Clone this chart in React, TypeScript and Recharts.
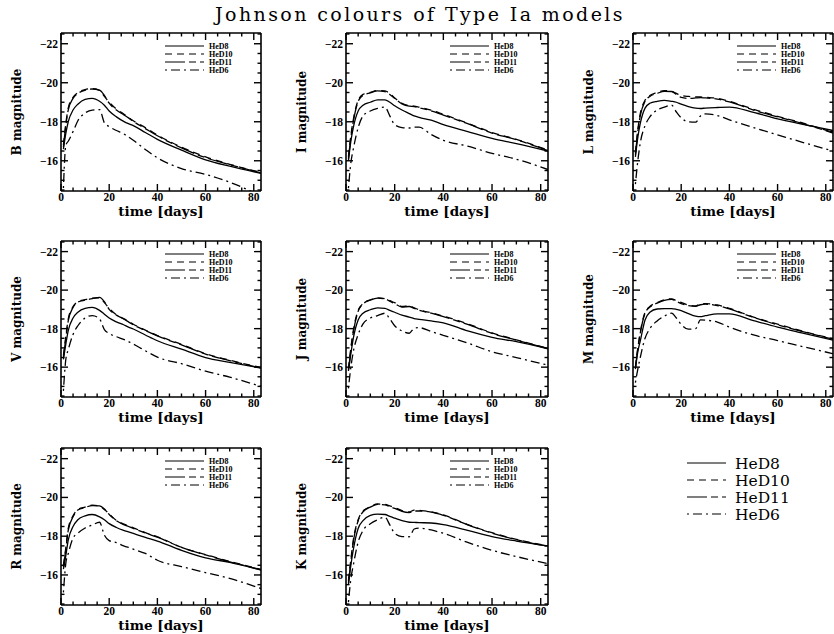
import React from 'react';
import { LineChart, Line, XAxis, YAxis, Legend, Label } from 'recharts';

// days since explosion
const days = [1, 2, 3, 5, 7, 10, 13, 16, 18, 20, 23, 26, 28, 30, 35, 40, 50, 60, 70, 83];

const models = ['HeD8', 'HeD10', 'HeD11', 'HeD6'];

// B band
const B_HeD8 = [-16.6, -17.4, -18.0, -18.6, -18.9, -19.15, -19.2, -19.05, -18.85, -18.55, -18.25, -18.02, -17.9, -17.8, -17.45, -17.1, -16.55, -16.05, -15.72, -15.35];
const B_HeD10 = [-16.8, -17.9, -18.7, -19.25, -19.5, -19.65, -19.7, -19.6, -19.3, -19.0, -18.65, -18.4, -18.22, -18.05, -17.7, -17.32, -16.7, -16.2, -15.82, -15.4];
const B_HeD11 = [-16.7, -17.8, -18.6, -19.2, -19.45, -19.62, -19.68, -19.62, -19.35, -18.95, -18.6, -18.36, -18.2, -18.02, -17.65, -17.28, -16.66, -16.16, -15.8, -15.38];
const B_HeD6 = [-14.6, -16.8, -17.0, -17.5, -18.05, -18.45, -18.6, -18.62, -17.95, -17.75, -17.55, -17.38, -17.22, -17.05, -16.58, -16.15, -15.6, -15.3, -14.9, -14.2];

// I band
const I_HeD8 = [-16.0, -17.0, -17.7, -18.55, -18.85, -19.0, -19.12, -19.12, -19.0, -18.82, -18.6, -18.42, -18.3, -18.22, -18.08, -17.85, -17.5, -17.15, -16.88, -16.5];
const I_HeD10 = [-16.2, -17.3, -18.1, -19.1, -19.4, -19.5, -19.6, -19.58, -19.45, -19.22, -18.95, -18.82, -18.8, -18.75, -18.6, -18.38, -17.92, -17.45, -17.1, -16.55];
const I_HeD11 = [-16.1, -17.2, -18.0, -19.05, -19.35, -19.48, -19.58, -19.55, -19.4, -19.2, -18.92, -18.8, -18.78, -18.72, -18.56, -18.34, -17.9, -17.42, -17.08, -16.52];
const I_HeD6 = [-14.6, -15.9, -16.6, -17.7, -18.3, -18.55, -18.68, -18.75, -18.3, -17.85, -17.7, -17.68, -17.72, -17.72, -17.35, -17.05, -16.75, -16.38, -16.08, -15.55];

// L band
const L_HeD8 = [-16.2, -17.2, -17.9, -18.7, -18.95, -19.05, -19.1, -19.05, -19.0, -18.9, -18.78, -18.7, -18.68, -18.7, -18.73, -18.75, -18.48, -18.15, -17.88, -17.55];
const L_HeD10 = [-16.4, -17.6, -18.4, -19.1, -19.35, -19.5, -19.6, -19.56, -19.45, -19.35, -19.3, -19.28, -19.27, -19.25, -19.2, -19.05, -18.64, -18.28, -17.95, -17.45];
const L_HeD11 = [-16.3, -17.5, -18.3, -19.05, -19.3, -19.45, -19.56, -19.55, -19.4, -19.25, -19.2, -19.22, -19.24, -19.22, -19.16, -19.02, -18.6, -18.25, -17.92, -17.42];
const L_HeD6 = [-14.8, -16.0, -16.9, -17.8, -18.25, -18.6, -18.75, -18.85, -18.5, -18.2, -18.0, -17.98, -18.3, -18.4, -18.32, -18.1, -17.7, -17.33, -16.96, -16.5];

// V band
const V_HeD8 = [-16.4, -17.2, -17.9, -18.55, -18.85, -19.05, -19.1, -18.95, -18.75, -18.55, -18.35, -18.2, -18.08, -17.98, -17.67, -17.37, -16.93, -16.5, -16.25, -15.95];
const V_HeD10 = [-16.6, -17.6, -18.5, -19.15, -19.4, -19.5, -19.58, -19.6, -19.35, -19.05, -18.72, -18.52, -18.38, -18.23, -17.92, -17.64, -17.18, -16.7, -16.36, -15.98];
const V_HeD11 = [-16.5, -17.5, -18.4, -19.1, -19.38, -19.48, -19.56, -19.62, -19.4, -19.0, -18.7, -18.5, -18.35, -18.2, -17.9, -17.62, -17.16, -16.68, -16.34, -15.96];
const V_HeD6 = [-14.77, -16.4, -16.9, -17.7, -18.15, -18.55, -18.68, -18.5, -17.95, -17.75, -17.58, -17.44, -17.33, -17.2, -16.85, -16.52, -16.18, -15.79, -15.48, -15.0];

// J band
const J_HeD8 = [-15.8, -16.7, -17.5, -18.45, -18.8, -18.98, -19.08, -19.05, -18.95, -18.85, -18.7, -18.6, -18.52, -18.48, -18.4, -18.3, -17.88, -17.55, -17.32, -16.95];
const J_HeD10 = [-15.9, -17.0, -17.9, -18.95, -19.3, -19.5, -19.6, -19.56, -19.45, -19.35, -19.15, -19.18, -19.08, -18.98, -18.82, -18.65, -18.25, -17.78, -17.42, -16.98];
const J_HeD11 = [-15.85, -16.9, -17.8, -18.9, -19.28, -19.48, -19.58, -19.55, -19.42, -19.3, -19.12, -19.15, -19.05, -18.96, -18.8, -18.62, -18.22, -17.75, -17.4, -16.96];
const J_HeD6 = [-14.9, -16.0, -16.8, -17.7, -18.25, -18.55, -18.68, -18.8, -18.5, -18.15, -17.88, -17.76, -18.02, -18.05, -17.85, -17.65, -17.25, -16.8, -16.5, -16.1];

// M band
const M_HeD8 = [-15.9, -16.8, -17.35, -18.45, -18.85, -19.02, -19.04, -19.04, -19.0, -18.93, -18.78, -18.65, -18.62, -18.67, -18.77, -18.77, -18.42, -18.08, -17.78, -17.4];
const M_HeD10 = [-16.0, -17.0, -17.8, -18.85, -19.15, -19.35, -19.5, -19.55, -19.45, -19.36, -19.22, -19.18, -19.28, -19.3, -19.23, -19.05, -18.6, -18.23, -17.88, -17.47];
const M_HeD11 = [-15.95, -16.95, -17.75, -18.8, -19.12, -19.32, -19.47, -19.52, -19.42, -19.3, -19.2, -19.16, -19.24, -19.27, -19.2, -19.02, -18.58, -18.2, -17.86, -17.45];
const M_HeD6 = [-15.2, -15.9, -16.5, -17.5, -18.0, -18.4, -18.65, -18.8, -18.55, -18.22, -17.97, -18.0, -18.45, -18.44, -18.34, -18.08, -17.67, -17.38, -17.08, -16.7];

// R band
const R_HeD8 = [-16.3, -17.0, -17.8, -18.5, -18.85, -19.05, -19.12, -19.0, -18.85, -18.65, -18.45, -18.3, -18.22, -18.14, -17.94, -17.75, -17.27, -16.88, -16.65, -16.25];
const R_HeD10 = [-16.5, -17.4, -18.4, -19.05, -19.38, -19.5, -19.6, -19.55, -19.38, -19.15, -18.81, -18.63, -18.52, -18.43, -18.18, -17.97, -17.43, -17.05, -16.7, -16.28];
const R_HeD11 = [-16.4, -17.3, -18.3, -19.0, -19.35, -19.48, -19.58, -19.56, -19.4, -19.12, -18.8, -18.6, -18.5, -18.4, -18.16, -17.95, -17.42, -17.03, -16.68, -16.27];
const R_HeD6 = [-15.1, -16.6, -17.1, -17.9, -18.15, -18.42, -18.58, -18.72, -18.05, -17.77, -17.67, -17.5, -17.42, -17.33, -17.11, -16.76, -16.43, -16.12, -15.82, -15.3];

// K band
const K_HeD8 = [-15.5, -16.5, -17.3, -18.4, -18.8, -19.07, -19.14, -19.12, -19.02, -18.93, -18.8, -18.72, -18.71, -18.7, -18.68, -18.6, -18.3, -17.98, -17.75, -17.5];
const K_HeD10 = [-15.7, -16.8, -17.8, -18.85, -19.3, -19.52, -19.66, -19.64, -19.56, -19.48, -19.32, -19.25, -19.35, -19.33, -19.26, -19.1, -18.6, -18.18, -17.84, -17.5];
const K_HeD11 = [-15.6, -16.7, -17.7, -18.8, -19.26, -19.5, -19.64, -19.62, -19.52, -19.44, -19.28, -19.22, -19.3, -19.3, -19.24, -19.08, -18.58, -18.16, -17.82, -17.48];
const K_HeD6 = [-14.6, -15.8, -16.5, -17.7, -18.3, -18.64, -18.85, -18.98, -18.58, -18.15, -17.98, -17.97, -18.37, -18.42, -18.32, -18.15, -17.68, -17.27, -16.95, -16.58];

const xTicks = [0, 5, 10, 15, 20, 25, 30, 35, 40, 45, 50, 55, 60, 65, 70, 75, 80];
const xMajor = [0, 20, 40, 60, 80];
const yTicks = [-22.5, -22, -21.5, -21, -20.5, -20, -19.5, -19, -18.5, -18, -17.5, -17, -16.5, -16, -15.5, -15, -14.5];
const yMajor = [-22, -20, -18, -16];

const dashes: Record<string, string | undefined> = {
  HeD8: undefined,
  HeD10: '7 5',
  HeD11: '20 4 7 4',
  HeD6: '2 4 9 4',
};

const panels = [
  { band: 'B', col: 0, row: 0, s: [B_HeD8, B_HeD10, B_HeD11, B_HeD6] },
  { band: 'I', col: 1, row: 0, s: [I_HeD8, I_HeD10, I_HeD11, I_HeD6] },
  { band: 'L', col: 2, row: 0, s: [L_HeD8, L_HeD10, L_HeD11, L_HeD6] },
  { band: 'V', col: 0, row: 1, s: [V_HeD8, V_HeD10, V_HeD11, V_HeD6] },
  { band: 'J', col: 1, row: 1, s: [J_HeD8, J_HeD10, J_HeD11, J_HeD6] },
  { band: 'M', col: 2, row: 1, s: [M_HeD8, M_HeD10, M_HeD11, M_HeD6] },
  { band: 'R', col: 0, row: 2, s: [R_HeD8, R_HeD10, R_HeD11, R_HeD6] },
  { band: 'K', col: 1, row: 2, s: [K_HeD8, K_HeD10, K_HeD11, K_HeD6] },
];

const colLeft = [61, 346, 633];
const colWidth = [200, 202, 200];
const rowTop = [33, 241, 448];
const rowHeight = [158, 156, 157];
const YW = 52;
const XH = 30;
const PAD = 2;

const tickFont = { fontFamily: 'Liberation Serif', fontWeight: 700, fontSize: 11.5 };
const labelFont = { fontFamily: 'DejaVu Serif', fontWeight: 700 };
const axisStyle = { stroke: '#000', strokeWidth: 1.6 };
const tickLen = (major: boolean) => (major ? 7 : 3.5);

const minus = (v: number) => String(v).replace('-', '\u2212');

// tick renderers need the frame position, so build them per panel
const makeTicks = (pw: number, ph: number) => {
  const left = YW;
  const right = YW + pw;
  const top = PAD;
  const bottom = PAD + ph;
  const LeftTick = (props: any) => {
    const { y, payload } = props;
    const major = yMajor.includes(payload.value);
    return (
      <g>
        <line x1={left} x2={left + tickLen(major)} y1={y} y2={y} stroke="#000" strokeWidth={1.4} />
        {major && (
          <text x={left - 3} y={y + 4} textAnchor="end" fill="#000" stroke="none" {...tickFont}>{minus(payload.value)}</text>
        )}
      </g>
    );
  };
  const RightTick = (props: any) => {
    const { y, payload } = props;
    const major = yMajor.includes(payload.value);
    return <line x1={right} x2={right - tickLen(major)} y1={y} y2={y} stroke="#000" strokeWidth={1.4} />;
  };
  const BottomTick = (props: any) => {
    const { x, payload } = props;
    const major = xMajor.includes(payload.value);
    return (
      <g>
        <line x1={x} x2={x} y1={bottom} y2={bottom - tickLen(major)} stroke="#000" strokeWidth={1.4} />
        {major && (
          <text x={x} y={bottom + 10} textAnchor="middle" fill="#000" stroke="none" {...tickFont}>{payload.value}</text>
        )}
      </g>
    );
  };
  const TopTick = (props: any) => {
    const { x, payload } = props;
    const major = xMajor.includes(payload.value);
    return <line x1={x} x2={x} y1={top} y2={top + tickLen(major)} stroke="#000" strokeWidth={1.4} />;
  };
  return { LeftTick, RightTick, BottomTick, TopTick };
};

const PanelKey = () => (
  <svg width={100} height={38} style={{ display: 'block', overflow: 'visible' }}>
    {models.map((m, i) => (
      <g key={m}>
        <line x1={0} x2={39} y1={5 + i * 8} y2={5 + i * 8} stroke="#000" strokeWidth={1.2} strokeDasharray={dashes[m]} />
        <text x={44} y={8 + i * 8} fontFamily="Liberation Serif" fontWeight={700} fontSize={8} fill="#000">{m}</text>
      </g>
    ))}
  </svg>
);

const Panel = ({ p }: { p: (typeof panels)[number] }) => {
  const data = days.map((t, i) => ({ t, HeD8: p.s[0][i], HeD10: p.s[1][i], HeD11: p.s[2][i], HeD6: p.s[3][i] }));
  const pl = colLeft[p.col];
  const pw = colWidth[p.col];
  const pt = rowTop[p.row];
  const ph = rowHeight[p.row];
  const t = makeTicks(pw, ph);
  return (
    <div style={{ position: 'absolute', left: pl - YW, top: pt - PAD }}>
      <LineChart width={YW + pw + PAD} height={PAD + ph + XH} data={data} margin={{ top: PAD - 1, right: PAD - 1, bottom: 0, left: 0 }}>
        <XAxis dataKey="t" type="number" domain={[0, 83]} ticks={xTicks} interval={0} allowDataOverflow height={XH}
          stroke="#000" tickLine={false} axisLine={axisStyle} tick={t.BottomTick}>
          <Label content={() => (
            <text x={YW + pw / 2} y={PAD + ph + 25} textAnchor="middle" fontSize={13.5} fill="#000" {...labelFont}>time [days]</text>
          )} />
        </XAxis>
        <XAxis xAxisId="top" orientation="top" dataKey="t" type="number" domain={[0, 83]} ticks={xTicks} interval={0}
          stroke="#000" allowDataOverflow height={1} tickLine={false} axisLine={axisStyle} tick={t.TopTick} />
        <YAxis type="number" domain={[-22.55, -14.45]} reversed allowDataOverflow ticks={yTicks} interval={0} width={YW}
          stroke="#000" tickLine={false} axisLine={axisStyle} tick={t.LeftTick}>
          <Label content={() => {
            const cx = 8;
            const cy = PAD + ph / 2;
            return (
              <text x={cx} y={cy} transform={`rotate(-90 ${cx} ${cy})`} textAnchor="middle" dominantBaseline="central"
                fontSize={12} fill="#000" {...labelFont}>{`${p.band} magnitude`}</text>
            );
          }} />
        </YAxis>
        <YAxis yAxisId="r" orientation="right" type="number" domain={[-22.55, -14.45]} reversed allowDataOverflow ticks={yTicks}
          stroke="#000" interval={0} width={1} tickLine={false} axisLine={axisStyle} tick={t.RightTick} />
        <Legend layout="horizontal" align="center" verticalAlign="middle" content={PanelKey}
          wrapperStyle={{ top: PAD + 8, left: YW + 104, width: 100, height: 38 }} />
        {models.map((m) => (
          <Line key={m} dataKey={m} type="monotone" stroke="#000" strokeWidth={1.3} strokeDasharray={dashes[m]}
            dot={false} activeDot={false} isAnimationActive={false} />
        ))}
      </LineChart>
    </div>
  );
};

export default function App() {
  return (
    <div style={{ position: 'fixed', left: 0, top: 0, width: 834, height: 634, background: '#fff', overflow: 'hidden' }}>
      <svg width={834} height={30} style={{ position: 'absolute', left: 0, top: 0 }}>
        <text x={420} y={21} textAnchor="middle" fontFamily="DejaVu Serif" fontSize={19} letterSpacing={2.4} fill="#000">
          Johnson colours of Type Ia models
        </text>
      </svg>
      {panels.map((p) => (
        <Panel key={p.band} p={p} />
      ))}
      <svg width={150} height={80} style={{ position: 'absolute', left: 680, top: 450 }}>
        {models.map((m, i) => (
          <g key={m}>
            <line x1={7} x2={46} y1={13 + i * 17} y2={13 + i * 17} stroke="#000" strokeWidth={1.2} strokeDasharray={dashes[m]} />
            <text x={55} y={18.5 + i * 17} fontFamily="DejaVu Serif" fontSize={15.5} fill="#000">{m}</text>
          </g>
        ))}
      </svg>
    </div>
  );
}
